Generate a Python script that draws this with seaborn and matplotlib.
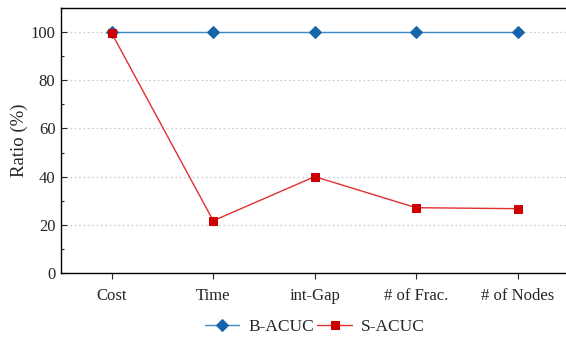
import matplotlib
matplotlib.use("Agg")
import matplotlib.pyplot as plt
import seaborn as sns
import pandas as pd
from matplotlib.ticker import MultipleLocator

categories = ["Cost", "Time", "int-Gap", "# of Frac.", "# of Nodes"]
b_acuc = [100, 100, 100, 100, 100]
s_acuc = [99.5, 21.7, 40.0, 27.1, 26.7]
series_names = ["B-ACUC", "S-ACUC"]

sns.set_style("ticks")
plt.rcParams["font.family"] = ["Liberation Serif", "DejaVu Serif"]
plt.rcParams["font.size"] = 12

fig = plt.figure(figsize=(5.66, 3.4), dpi=100)
ax = fig.add_axes([61/566, 1-273/340, (568.4-61)/566, (273-8)/340])

df = pd.DataFrame({"cat": categories * 2,
                   "val": b_acuc + s_acuc,
                   "series": [series_names[0]] * 5 + [series_names[1]] * 5})

blue_line = "#3d8ac6"
blue_mark = "#1565aa"
red_line = "#e03030"
red_mark = "#cc0000"

sns.lineplot(data=df[df.series == "B-ACUC"], x="cat", y="val", ax=ax, sort=False,
             color=blue_line, lw=1.0, marker="D", markersize=6.3,
             markerfacecolor=blue_mark, markeredgecolor=blue_mark, label="B-ACUC", zorder=3)
sns.lineplot(data=df[df.series == "S-ACUC"], x="cat", y="val", ax=ax, sort=False,
             color=red_line, lw=1.0, marker="s", markersize=6,
             markerfacecolor=red_mark, markeredgecolor=red_mark, label="S-ACUC", zorder=4)

ax.set_xlim(-0.5, 4.5)
ax.set_ylim(0, 110)
ax.yaxis.set_major_locator(MultipleLocator(20))
ax.yaxis.set_minor_locator(MultipleLocator(10))
ax.tick_params(axis="y", which="major", direction="in", length=4, width=0.8, labelsize=12, pad=4)
ax.tick_params(axis="y", which="minor", direction="in", length=2.5, width=0.8)
ax.tick_params(axis="x", direction="out", length=4, width=0.8, labelsize=12, pad=7)
ax.grid(axis="y", which="major", color="#cfcfcf", linestyle=(0, (1.5, 2)), lw=0.9)
ax.set_axisbelow(True)
ax.set_xlabel("")
ax.set_ylabel("Ratio (%)", fontsize=13.5, labelpad=2)
for s in ax.spines.values():
    s.set_linewidth(1.0)
    s.set_color("black")

ax.legend(loc="center", bbox_to_anchor=(0.5, -(327-273)/265), ncol=2, frameon=False,
          fontsize=12.5, handlelength=2.0, columnspacing=0.2, handletextpad=0.5)

fig.savefig("out.png", dpi=100)
